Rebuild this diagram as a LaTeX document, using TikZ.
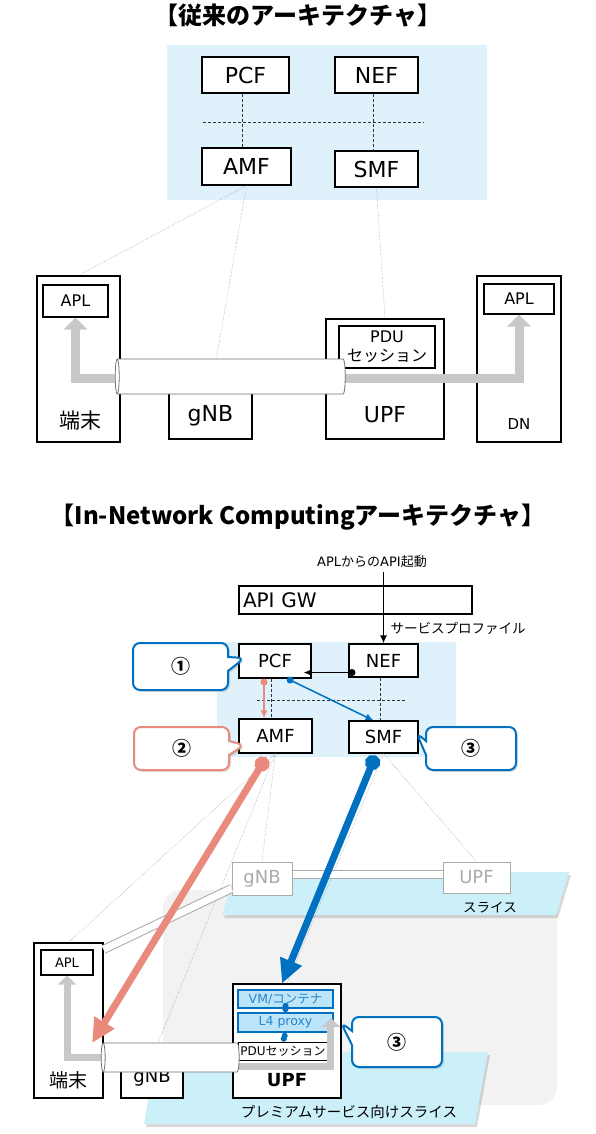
\documentclass[tikz,border=0pt]{standalone}
\usepackage{fontspec}
\setmainfont{DejaVu Sans}
\newfontfamily\jp{Noto Sans CJK JP}
\usetikzlibrary{shapes.geometric,shapes.callouts,shadows,arrows.meta}
\pgfdeclarelayer{background}
\pgfdeclarelayer{pipes}
\pgfdeclarelayer{foreground}
\pgfsetlayers{background,main,pipes,foreground}

\definecolor{nwblue}{RGB}{223,242,252}
\definecolor{slicecyan}{RGB}{204,240,250}
\definecolor{bggray}{RGB}{242,242,242}
\definecolor{salmon}{RGB}{234,138,124}
\definecolor{ncblue}{RGB}{0,112,192}
\definecolor{flowgray}{RGB}{200,200,200}
\definecolor{nodegray}{RGB}{170,170,170}
\definecolor{vmfill}{RGB}{189,229,250}

\newcommand{\fsz}[1]{\fontsize{#1}{#1}\selectfont}

\tikzset{
  nf/.style={draw, fill=white, line width=1.1pt, inner sep=0pt},
  gnf/.style={draw=nodegray, text=nodegray, fill=white, line width=1pt, inner sep=0pt, font=\fsz{18}},
  vmbox/.style={draw=ncblue, fill=vmfill, text=ncblue!85, line width=1.8pt, inner sep=0pt, font=\fsz{12.5}},
  ctrl/.style={dash pattern=on 3pt off 2pt, line width=0.6pt, black!80},
  sig/.style={densely dotted, line width=0.4pt, black!50},
  flow/.style={flowgray, line width=9pt, -{Triangle[length=12pt,width=23pt]}},
  flowsm/.style={flowgray, line width=7pt, -{Triangle[length=9pt,width=18pt]}},
  pipe/.style={draw=nodegray, double=white, double distance=7pt, line width=1pt},
  tube/.style={cylinder, shape border rotate=180, aspect=0.6, draw=black!55, fill=white, line width=0.8pt},
  callout/.style={rectangle callout, draw=#1, fill=white, line width=2pt, rounded corners=7pt,
    callout pointer width=14pt, font=\jp\bfseries\fsz{19},
    drop shadow={shadow xshift=2pt, shadow yshift=-2pt, opacity=0.25}},
  slice/.style={fill=slicecyan, drop shadow={shadow xshift=2pt, shadow yshift=-3pt, opacity=0.3}}
}

\begin{document}
\begin{tikzpicture}[x=1pt,y=-1pt]
\useasboundingbox (0,0) rectangle (596,1134);

\begin{pgfonlayer}{background}
	\fill[nwblue] (167,45) rectangle (487,200);
	\fill[nwblue] (217,642) rectangle (456,757);
	\fill[bggray, rounded corners=18pt] (163,890) rectangle (557,1105);
	\path[slice] (235,872) -- (569,872) -- (556,915) -- (222,915) -- cycle;
	\path[slice] (156,1052) -- (488,1052) -- (475,1124) -- (144,1124) -- cycle;
\end{pgfonlayer}

\begin{pgfonlayer}{pipes}
	\node[tube, minimum height=230, minimum width=35] (tube0) at (232,376.5) {};
	\node[tube, minimum height=138, minimum width=29] (tube1) at (172,1057.5) {};
\end{pgfonlayer}

%% conventional architecture
\node[font=\jp\bfseries\fsz{24}] (ttl0) at (298,16) {【従来のアーキテクチャ】};

\node[nf, minimum width=87, minimum height=36, font=\fsz{22}] (pcf0) at (245.5,75) {PCF};
\node[nf, minimum width=83, minimum height=36, font=\fsz{22}] (nef0) at (376.5,75) {NEF};
\node[nf, minimum width=89, minimum height=37, font=\fsz{22}] (amf0) at (246.5,166.5) {AMF};
\node[nf, minimum width=83, minimum height=36, font=\fsz{22}] (smf0) at (376.5,169) {SMF};
\coordinate (bus0w) at (203,122);
\coordinate (bus0e) at (424,122);
\draw[ctrl] ([xshift=-3pt]pcf0.south) -- ([xshift=-3pt]pcf0.south |- amf0.north);
\draw[ctrl] ([xshift=-3pt]nef0.south) -- ([xshift=-3pt]nef0.south |- smf0.north);
\draw[ctrl] (bus0w) -- (bus0e);

\node[nf, minimum width=83, minimum height=166] (tm0) at (78.5,359) {};
\node[nf, minimum width=65, minimum height=32, font=\fsz{16}] (apl0) at (75.5,301) {APL};
\node[font=\jp\fsz{21}] (tm0l) at (80,421) {端末};
\node[nf, minimum width=83, minimum height=46, font=\fsz{22}] (gnb0) at (210.5,416) {gNB};
\node[nf, minimum width=118, minimum height=120] (upf0) at (385,379) {};
\node[font=\fsz{22}] (upf0l) at (385,415) {UPF};
\node[nf, minimum width=96, minimum height=42, align=center, font=\fontsize{16}{19}\selectfont] (pdu0) at (387,347) {PDU\\{\jp セッション}};
\node[nf, minimum width=84, minimum height=166] (dn0) at (519,359) {};
\node[nf, minimum width=70, minimum height=30, font=\fsz{16}] (apl0r) at (519,299) {APL};
\node[font=\fsz{15}] (dn0l) at (519,424) {DN};

\draw[sig] (amf0.south) -- (tm0.north);
\draw[sig] (amf0.south) -- (gnb0.north);
\draw[sig] (smf0.south) -- (upf0.north);

\draw[flow] ([yshift=-1.5pt]tube0.center) -| (apl0.south);
\draw[flow] ([yshift=-1.5pt]tube0.center) -| (apl0r.south);

%% in-network computing architecture
\node[font=\jp\bfseries\fsz{24}] (ttl1) at (298,517) {【In-Network Computingアーキテクチャ】};

\node[font=\fsz{13}] (apitxt) at (372,562) {APL{\jp からの}API{\jp 起動}};
\node[nf, text width=225pt, minimum height=28, inner sep=4pt, align=left, font=\fsz{20}] (gw) at (355.5,600) {API GW};
\node[font=\jp\fsz{13.5}, anchor=west] (svcprof) at (387,628) {サービスプロファイル};

\node[nf, minimum width=72, minimum height=34, font=\fsz{18}] (pcf) at (275,661) {PCF};
\node[nf, minimum width=69, minimum height=33, font=\fsz{18}] (nef) at (383.5,660.5) {NEF};
\node[nf, minimum width=73, minimum height=34, font=\fsz{18}] (amf) at (275.5,736) {AMF};
\node[nf, minimum width=69, minimum height=32, font=\fsz{18}] (smf) at (383.5,737) {SMF};
\coordinate (busw) at (257,700);
\coordinate (buse) at (405,700);
\draw[ctrl] ([xshift=-4pt]pcf.south) -- ([xshift=-4pt]pcf.south |- amf.north);
\draw[ctrl] ([xshift=-3.5pt]nef.south) -- ([xshift=-3.5pt]nef.south |- smf.north);
\draw[ctrl] (busw) -- (buse);

\draw[line width=1.5pt, -{Latex[length=8pt,width=7pt]}] (nef.north |- apitxt.south) -- (nef.north);
\draw[line width=1.5pt, {Circle[length=7pt]}-{Latex[length=8pt,width=7pt]}]
	([xshift=7pt,yshift=5pt]nef.south west) -- ([xshift=-8pt,yshift=6pt]pcf.south east);
\draw[salmon, line width=1.5pt, {Circle[length=7pt]}-{Latex[length=8pt,width=7pt]}]
	([xshift=-11pt]pcf.south) -- ([xshift=-11pt]pcf.south |- amf.north);
\draw[ncblue, line width=1.5pt, {Circle[length=7pt]}-{Latex[length=8pt,width=7pt]}]
	([xshift=12pt]pcf.south) -- ([xshift=-10pt]smf.north);

% slice nodes
\node[gnf, minimum width=60, minimum height=33] (gnbS) at (262,878.5) {gNB};
\node[gnf, minimum width=67, minimum height=31] (upfS) at (476.5,877.5) {UPF};
\node[font=\jp\fsz{13.5}] (slcl) at (490,907) {スライス};
\node[font=\jp\fsz{14.5}] (pslcl) at (349,1112) {プレミアムサービス向けスライス};

\node[nf, minimum width=69, minimum height=155] (tm1) at (68.5,1020.5) {};
\node[nf, minimum width=52, minimum height=25, font=\fsz{13}] (apl1) at (67,962.5) {APL};
\node[font=\jp\fsz{19}] (tm1l) at (68,1080) {端末};
\node[nf, minimum width=62, minimum height=40, font=\fsz{18}] (gnb1) at (152,1078) {gNB};
\node[nf, minimum width=108, minimum height=114] (upf1) at (287,1041) {};
\node[font=\bfseries\fsz{18}] (upf1l) at (287,1080) {UPF};
\node[vmbox, minimum width=95, minimum height=18] (vm) at (285.5,999) {VM/{\jp コンテナ}};
\node[vmbox, minimum width=95, minimum height=19] (l4) at (285.5,1022.5) {L4 proxy};
\node[nf, line width=0.8pt, minimum width=90, minimum height=18, font=\fsz{12}] (pdu1) at (283,1051) {PDU{\jp セッション}};
\draw[ncblue, line width=2pt, {Circle[length=6pt]}-{Circle[length=6pt]}] (vm.south) -- (l4.north);
\draw[ncblue, line width=1.5pt, {Circle[length=6pt]}-{Circle[length=6pt]}] (l4.south) -- (pdu1.north);

\draw[sig] (amf.south) -- (tm1.north);
\draw[sig] (amf.south) -- (gnbS.north);
\draw[sig] (amf.south) -- (gnb1.north);
\draw[sig] (smf.south) -- (upfS.north);
\draw[sig] (smf.south) -- (upf1.north);

\draw[pipe] ([yshift=4pt]gnbS.east) -- ([yshift=4pt]gnbS.east -| upfS.west);
\draw[pipe] ([yshift=-10pt]gnbS.west) -- ([yshift=-7pt]tm1.north east);

\coordinate (l4in) at ([xshift=-3pt,yshift=4.5pt]l4.east);
\draw[flowsm] (tube1.center) -| (apl1.south);
\draw[flowsm] ([yshift=-8.5pt]tube1.center) -| (l4in);

\coordinate (tmin) at (92,1043);
\begin{pgfonlayer}{foreground}
	\draw[salmon, line width=7pt, {Circle[length=15pt]}-{Triangle[length=24pt,width=22pt]}]
		([xshift=-9.5pt,yshift=-4pt]amf.south) -- (tmin);
	\draw[ncblue, line width=7pt, {Circle[length=15pt]}-{Triangle[length=24pt,width=22pt]}]
		([xshift=-8pt,yshift=-2pt]smf.south) -- ([xshift=-5pt]upf1.north);

	\node[callout=ncblue, minimum width=95, minimum height=47,
		callout absolute pointer={([xshift=6pt,yshift=3pt]pcf.west)}] (co1) at (180.5,666.5) {①};
	\node[callout=salmon, minimum width=95, minimum height=43,
		callout absolute pointer={([xshift=6pt,yshift=-9pt]amf.west)}] (co2) at (181.5,748.5) {②};
	\node[callout=ncblue, minimum width=90, minimum height=43,
		callout absolute pointer={([xshift=-2pt,yshift=4pt]smf.east)}] (co3) at (471,748.5) {③};
	\node[callout=ncblue, minimum width=90, minimum height=50,
		callout absolute pointer={([xshift=7pt]l4.east)}] (co3b) at (397,1042) {③};
\end{pgfonlayer}

\end{tikzpicture}
\end{document}
